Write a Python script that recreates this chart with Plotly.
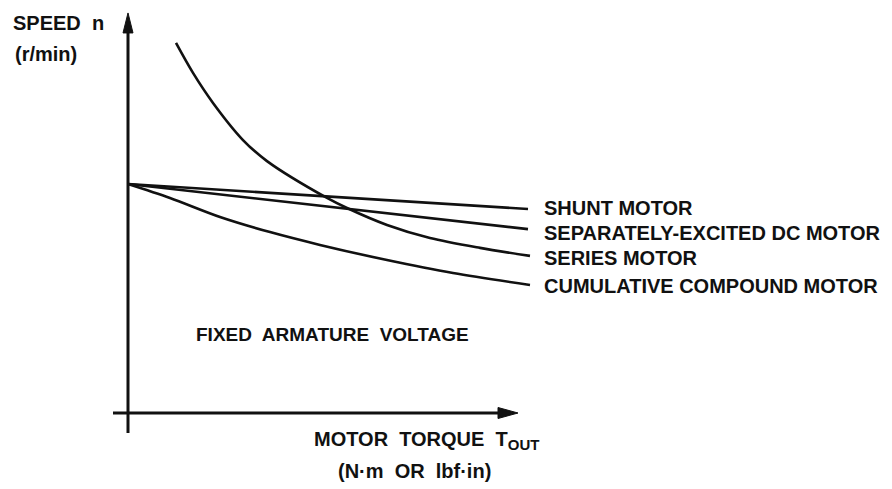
import plotly.graph_objects as go

# ---- data ----
torque_linear = [0, 100]
shunt_speed = [100, 89.1]
sep_speed = [100, 80.3]

series_torque = [12, 16.25, 21.25, 28.75, 34.75, 49.75, 54.75, 64.75, 75.5, 88, 100.5]
series_speed = [161.6, 148.5, 135.4, 119.2, 110.0, 93.9, 89.5, 82.1, 76.4, 72.1, 68.6]

cumul_torque = [0, 10.5, 23, 35.5, 48, 64.75, 81.25, 100.5]
cumul_speed = [100, 93.9, 85.6, 79.0, 73.4, 66.8, 61.1, 55.9]

labels = ["SHUNT MOTOR", "SEPARATELY-EXCITED DC MOTOR", "SERIES MOTOR",
          "CUMULATIVE COMPOUND MOTOR"]

# axis extents (data units)
x_axis_start, x_axis_tip = -3.75, 97.5
y_axis_start, y_axis_tip = -8.7, 174.7

# page has an 8px body margin: figure occupies page pixels 8..892
OFF = 8
W, H = 892 - OFF, 489 - OFF
FONT = dict(family="Liberation Sans, Arial, sans-serif", size=20, color="#111")
INK = "#111"

fig = go.Figure()
for xs, ys in [(torque_linear, shunt_speed), (torque_linear, sep_speed),
               (series_torque, series_speed), (cumul_torque, cumul_speed)]:
    fig.add_trace(go.Scatter(x=xs, y=ys, mode="lines",
                             line=dict(color=INK, width=2.6, shape="spline", smoothing=0.9),
                             hoverinfo="skip", showlegend=False))

shapes = [
    dict(type="line", x0=0, x1=0, y0=y_axis_start, y1=y_axis_tip - 6,
         line=dict(color=INK, width=3), layer="above"),
    dict(type="line", x0=x_axis_start, x1=x_axis_tip - 3, y0=0, y1=0,
         line=dict(color=INK, width=3), layer="above"),
    dict(type="path", xsizemode="pixel", ysizemode="pixel", xanchor=0, yanchor=y_axis_tip,
         path="M0,0 L-5,-20 L5,-20 Z", fillcolor=INK, line=dict(color=INK, width=1)),
    dict(type="path", xsizemode="pixel", ysizemode="pixel", xanchor=x_axis_tip, yanchor=0,
         path="M0,0 L-20,5.5 L-20,-5.5 Z", fillcolor=INK, line=dict(color=INK, width=1)),
]

def txt(s, px, py, size=20, anchor="left"):
    # px, py are page pixel positions in the reference
    return dict(text=s, x=(px - OFF) / W, y=1 - (py - OFF) / H, xref="paper", yref="paper",
                xanchor=anchor, yanchor="middle", showarrow=False,
                font=dict(FONT, size=size))

B = "<b>%s</b>"
ann = [
    txt(B % "SPEED\u00a0 n", 11, 23),
    txt(B % "(r/min)", 13, 54),
    txt(B % "FIXED\u00a0 ARMATURE\u00a0 VOLTAGE", 194, 334, size=19),
    txt(B % "MOTOR\u00a0 TORQUE\u00a0 T<sub><span style='font-size:15px'>OUT</span></sub>",
        312, 440),
    txt(B % "(N\u00b7m\u00a0 OR\u00a0 lbf\u00b7in)", 336, 471),
]
label_y = [208, 233, 258, 286]
for lab, py in zip(labels, label_y):
    ann.append(txt(B % lab, 542, py))

# data ranges: T=0 at page x=128 (4 px/unit); n=0 at page y=413 (2.29 px/unit)
x0_px, y0_px = 128 - OFF, 413 - OFF
fig.update_layout(
    width=W, height=H, margin=dict(l=0, r=0, t=0, b=0),
    paper_bgcolor="white", plot_bgcolor="white",
    xaxis=dict(range=[-x0_px / 4, (W - x0_px) / 4], visible=False, fixedrange=True),
    yaxis=dict(range=[-(H - y0_px) / 2.29, y0_px / 2.29], visible=False, fixedrange=True),
    shapes=shapes, annotations=ann,
)
fig.write_html("out.html")
